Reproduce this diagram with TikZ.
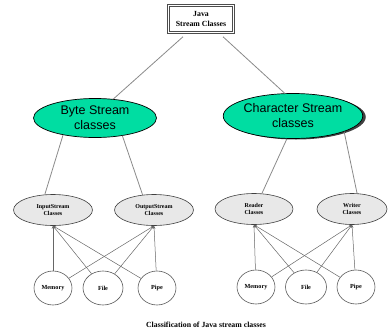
\documentclass[tikz,border=0pt]{standalone}
\usepackage{fontspec}
\setmainfont{Liberation Serif}
\newfontfamily\arialfont{Liberation Sans}
\usetikzlibrary{shapes.geometric,shadows,arrows.meta}
\definecolor{teal1}{HTML}{00DDA2}
\definecolor{linegrey}{HTML}{8A8A8A}
\tikzset{
  bigell/.style={ellipse,draw=black,line width=0.7pt,fill=teal1,inner sep=0pt,
    align=center,font=\arialfont\fontsize{12.5}{15}\selectfont},
  greyell/.style={ellipse,draw=black!75,line width=0.6pt,fill=black!9,inner sep=0pt,
    minimum width=79pt,minimum height=31pt,align=center,font=\bfseries\fontsize{6}{7}\selectfont},
  leaf/.style={ellipse,draw=black!65,line width=0.6pt,fill=white,inner sep=0pt,
    minimum width=38pt,minimum height=34pt,font=\bfseries\fontsize{6.2}{7}\selectfont},
  topbox/.style={draw=black!70,double=white,double distance=1.2pt,line width=0.5pt,fill=white,
    minimum width=65pt,minimum height=27pt,inner sep=0pt,align=center,font=\bfseries\fontsize{7.8}{9.5}\selectfont},
  conn/.style={draw=linegrey,line width=0.8pt},
  arr/.style={draw=black!60,line width=0.5pt,{Stealth[length=3pt,width=2.5pt]}-},
}
\begin{document}
\begin{tikzpicture}[x=1pt,y=-1pt]
\useasboundingbox (0,0) rectangle (389,335);
\node[topbox] (top) at (201,19) {Java\\Stream Classes};
\node[bigell,minimum width=123pt,minimum height=39pt] (byte) at (95,118) {Byte Stream\\classes};
\node[bigell,minimum width=133pt,minimum height=45pt,
  drop shadow={shadow xshift=3pt,shadow yshift=-1pt,fill=black,opacity=0.75}] (char) at (293,116) {Character Stream\\classes};
\node[greyell] (input) at (53,210) {InputStream\\Classes};
\node[greyell] (output) at (154,210) {OutputStream\\Classes};
\node[greyell,minimum width=78pt] (reader) at (254,209) {Reader\\Classes};
\node[greyell,minimum width=70pt] (writer) at (352,209) {Writer\\Classes};
\node[leaf] (m1) at (53,288) {Memory};
\node[leaf,minimum width=40pt] (f1) at (103,288) {File};
\node[leaf] (p1) at (157,288) {Pipe};
\node[leaf] (m2) at (256,287) {Memory};
\node[leaf,minimum width=41pt] (f2) at (306,287) {File};
\node[leaf] (p2) at (356,287) {Pipe};
\node[font=\bfseries\fontsize{7.8}{9}\selectfont] (cap) at (206,325) {Classification of Java stream classes};
% top connectors
\draw[conn] ([xshift=-18pt,yshift=-4pt]top.south) -- (byte.46);
\draw[conn] ([xshift=22pt,yshift=-4pt]top.south) -- (char.110);
% middle connectors
\draw[conn] (byte.208) -- (input.118);
\draw[conn] (byte.327) -- (output.127);
\draw[conn] (char.255) -- (reader.63);
\draw[conn] (char.343) -- (writer.72);
% bottom connectors
\foreach \s in {input,output}{
  \foreach \t in {m1,f1,p1}{
    \draw[arr] (\s.south) -- (\t);
  }
}
\foreach \s in {reader,writer}{
  \foreach \t in {m2,f2,p2}{
    \draw[arr] (\s.south) -- (\t);
  }
}
\end{tikzpicture}
\end{document}
